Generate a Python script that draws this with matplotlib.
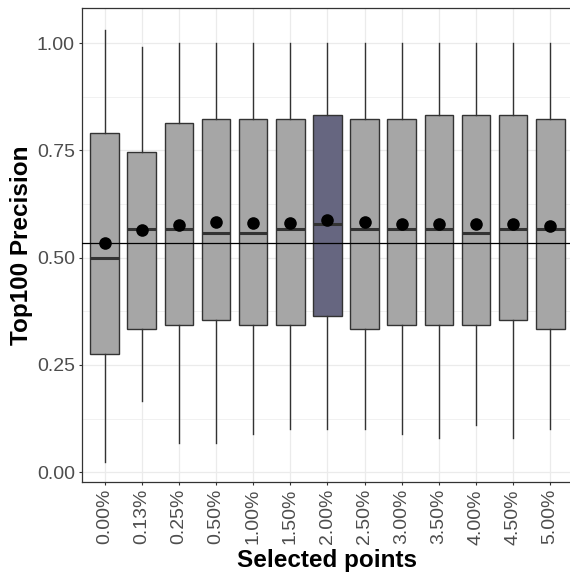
import matplotlib
matplotlib.use("Agg")
import matplotlib.pyplot as plt
import numpy as np

categories = ["0.00%", "0.13%", "0.25%", "0.50%", "1.00%", "1.50%", "2.00%",
              "2.50%", "3.00%", "3.50%", "4.00%", "4.50%", "5.00%"]
whisker_low = [0.025, 0.165, 0.068, 0.068, 0.090, 0.101, 0.101, 0.101, 0.090, 0.079, 0.111, 0.079, 0.101]
q1 = [0.276, 0.334, 0.344, 0.354, 0.344, 0.344, 0.365, 0.334, 0.344, 0.344, 0.344, 0.354, 0.334]
median = [0.500, 0.566, 0.566, 0.557, 0.557, 0.566, 0.578, 0.566, 0.566, 0.566, 0.557, 0.566, 0.566]
q3 = [0.790, 0.747, 0.814, 0.822, 0.822, 0.822, 0.832, 0.822, 0.822, 0.832, 0.832, 0.832, 0.822]
whisker_high = [1.030, 0.990, 1.000, 1.000, 1.000, 1.000, 1.000, 1.000, 1.000, 1.000, 1.000, 1.000, 1.000]
means = [0.533, 0.565, 0.576, 0.582, 0.580, 0.580, 0.587, 0.582, 0.578, 0.579, 0.578, 0.579, 0.574]
baseline = 0.533
highlight = "2.00%"
y_ticks = [0.00, 0.25, 0.50, 0.75, 1.00]
y_minor = [0.125, 0.375, 0.625, 0.875]

plt.rcParams['font.family'] = ['Liberation Sans', 'DejaVu Sans']

fig = plt.figure(figsize=(5.70, 5.74), dpi=100)
W, H = 570, 574
left, right, top, bottom = 82.3, 572.5, 8.3, 481.7
ax = fig.add_axes([left / W, (H - bottom) / H, (right - left) / W, (bottom - top) / H])

pos = np.arange(1, len(categories) + 1)
stats = []
for i, c in enumerate(categories):
    stats.append(dict(label=c, whislo=whisker_low[i], q1=q1[i], med=median[i],
                      q3=q3[i], whishi=whisker_high[i], fliers=[]))

edge = "#333333"
bp = ax.bxp(stats, positions=pos, widths=0.77, patch_artist=True, showcaps=False,
            boxprops=dict(edgecolor=edge, linewidth=1.0),
            whiskerprops=dict(color=edge, linewidth=1.0),
            medianprops=dict(color=edge, linewidth=2.2, solid_capstyle='butt'),
            zorder=3)
for patch, c in zip(bp['boxes'], categories):
    patch.set_facecolor("#666680" if c == highlight else "#A6A6A6")

ax.scatter(pos, means, s=82, color="black", zorder=5, linewidths=0)
ax.axhline(baseline, color="black", linewidth=0.9, zorder=4)

ax.set_xlim(0.4, len(categories) + 0.6)
ax.set_ylim(-0.022, 1.081)
ax.set_xticks(pos)
ax.set_xticklabels(categories, rotation=90)
ax.set_yticks(y_ticks)
ax.set_yticklabels([f"{v:.2f}" for v in y_ticks])
ax.set_yticks(y_minor, minor=True)

ax.grid(True, which='major', color="#EBEBEB", linewidth=0.9, zorder=0)
ax.grid(True, which='minor', axis='y', color="#EBEBEB", linewidth=0.5, zorder=0)
ax.set_axisbelow(True)

for s in ax.spines.values():
    s.set_color("#333333")
    s.set_linewidth(0.9)

ax.tick_params(axis='both', which='major', length=2.5, width=0.8, color="#333333",
               labelcolor="#4D4D4D", labelsize=14, pad=2.8)
ax.tick_params(axis='y', which='minor', length=0)

ax.set_xlabel("Selected points", fontsize=17.5, fontweight='bold', color='black')
ax.set_ylabel("Top100 Precision", fontsize=17.5, fontweight='bold', color='black')
ax.xaxis.set_label_coords(0.5, (bottom - 561) / (bottom - top))
ax.xaxis.label.set_verticalalignment('center')
ax.yaxis.set_label_coords((22 - left) / (right - left), 0.5)
ax.yaxis.label.set_verticalalignment('center')

fig.savefig("out.png", dpi=100)
